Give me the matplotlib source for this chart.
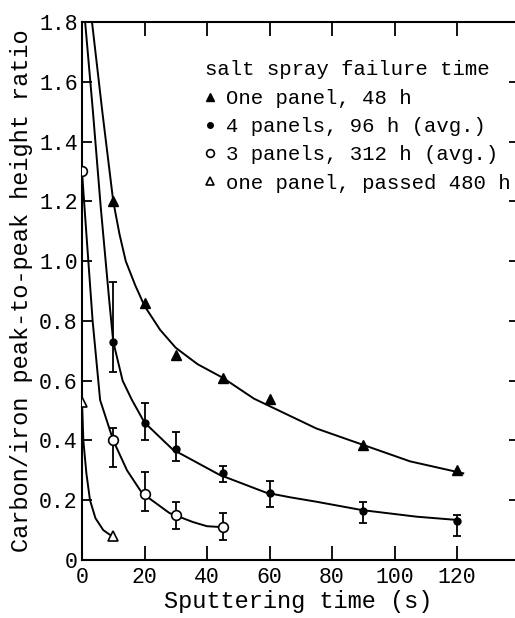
import matplotlib
matplotlib.use('Agg')
import matplotlib.pyplot as plt
import numpy as np

# measured points (sputtering time s, C/Fe peak-to-peak ratio)
tri_x = [10, 20, 30, 45, 60, 90, 120]
tri_y = [1.20, 0.86, 0.685, 0.61, 0.54, 0.385, 0.30]

fc_x = [10, 20, 30, 45, 60, 90, 120]
fc_y = [0.73, 0.46, 0.37, 0.29, 0.225, 0.165, 0.13]
fc_hi = [0.93, 0.525, 0.428, 0.315, 0.265, 0.195, 0.15]
fc_lo = [0.63, 0.40, 0.33, 0.26, 0.177, 0.125, 0.08]

oc_x = [0, 10, 20, 30, 45]
oc_y = [1.30, 0.40, 0.22, 0.15, 0.11]
oc_hi = [1.30, 0.44, 0.295, 0.195, 0.157]
oc_lo = [1.30, 0.31, 0.165, 0.103, 0.067]

ot_x = [0, 10]
ot_y = [0.53, 0.08]

# hand-drawn fit curves
tri_fit_x = [3.2, 6.5, 10, 12, 14, 17, 20, 25, 30, 37, 45, 55, 65, 75, 90, 105, 122]
tri_fit_y = [1.8, 1.5, 1.2, 1.09, 1.0, 0.92, 0.85, 0.77, 0.71, 0.655, 0.61, 0.54, 0.49, 0.44, 0.385, 0.33, 0.29]

fc_fit_x = [1.0, 3.5, 6.0, 8.7, 10, 13, 16, 20, 29, 44, 59, 66.5, 75, 89.6, 107, 120]
fc_fit_y = [1.8, 1.5, 1.18, 0.87, 0.73, 0.60, 0.535, 0.46, 0.37, 0.285, 0.225, 0.21, 0.195, 0.167, 0.145, 0.134]

oc_fit_x = [0, 1.0, 3.4, 5.8, 10, 14.4, 19.2, 28, 35.5, 40, 45]
oc_fit_y = [1.30, 1.15, 0.80, 0.535, 0.40, 0.30, 0.224, 0.157, 0.127, 0.113, 0.11]

ot_fit_x = [0, 0.43, 1.4, 2.56, 4.3, 6.8, 9.0, 10]
ot_fit_y = [0.53, 0.40, 0.29, 0.20, 0.14, 0.10, 0.084, 0.08]

labels = ['One panel, 48 h', '4 panels, 96 h (avg.)',
          '3 panels, 312 h (avg.)', 'one panel, passed 480 h']

plt.rcParams['font.family'] = ['Liberation Mono', 'DejaVu Sans Mono']

fig = plt.figure(figsize=(5.15, 6.18), dpi=100)
ax = fig.add_axes([82/515, 58/618, 433/515, 538/618])

lw = 1.4
for fx, fy in [(tri_fit_x, tri_fit_y), (fc_fit_x, fc_fit_y),
               (oc_fit_x, oc_fit_y), (ot_fit_x, ot_fit_y)]:
    ax.plot(fx, fy, color='k', lw=lw, zorder=2)

fc_y_a = np.array(fc_y)
ax.errorbar(fc_x, fc_y, yerr=[fc_y_a - np.array(fc_lo), np.array(fc_hi) - fc_y_a],
            fmt='none', ecolor='k', elinewidth=1.3, capsize=3, capthick=1.3, zorder=3)
oc_y_a = np.array(oc_y)
ax.errorbar(oc_x[1:], oc_y[1:], yerr=[(oc_y_a - np.array(oc_lo))[1:], (np.array(oc_hi) - oc_y_a)[1:]],
            fmt='none', ecolor='k', elinewidth=1.3, capsize=3, capthick=1.3, zorder=3)

h1, = ax.plot(tri_x, tri_y, ls='none', marker='^', ms=7.5, mfc='k', mec='k', label=labels[0], zorder=5)
h2, = ax.plot(fc_x, fc_y, ls='none', marker='o', ms=5, mfc='k', mec='k', label=labels[1], zorder=5)
h3, = ax.plot(oc_x, oc_y, ls='none', marker='o', ms=7, mfc='white', mec='k', mew=1.2, label=labels[2], zorder=5)
h4, = ax.plot(ot_x, ot_y, ls='none', marker='^', ms=7, mfc='white', mec='k', mew=1.2, label=labels[3], zorder=5)

ax.set_xlim(0, 138.56)
ax.set_ylim(0, 1.8)
ax.set_xticks([0, 20, 40, 60, 80, 100, 120])
ax.set_yticks([0, 0.2, 0.4, 0.6, 0.8, 1.0, 1.2, 1.4, 1.6, 1.8])
ax.set_yticklabels(['0', '0.2', '0.4', '0.6', '0.8', '1.0', '1.2', '1.4', '1.6', '1.8'])
ax.tick_params(axis='x', direction='in', length=10, width=1.3, top=True, labelsize=15.5, pad=5)
ax.tick_params(axis='y', direction='in', length=7, width=1.3, right=False, labelsize=15.5, pad=3)
for s in ['left', 'bottom', 'top']:
    ax.spines[s].set_linewidth(1.5)
ax.spines['right'].set_visible(False)

sec = ax.secondary_yaxis('right')
sec.set_yticks([0.2, 0.4, 0.6, 0.8, 1.0, 1.2, 1.4, 1.6])
sec.tick_params(direction='in', length=4, width=1.3, labelright=False)
sec.spines['right'].set_visible(False)

ax.set_xlabel('Sputtering time (s)', fontsize=17)
ax.xaxis.set_label_coords(0.5, -0.056)
ax.set_ylabel('Carbon/iron peak-to-peak height ratio', fontsize=17)
ax.yaxis.set_label_coords(-0.113, 0.5)

leg = ax.legend(handles=[h1, h2, h3, h4], title='salt spray failure time',
                loc='upper left', bbox_to_anchor=(0.27, 0.94), frameon=False,
                fontsize=14.9, title_fontsize=14.9, handlelength=0.5, handletextpad=0.5,
                labelspacing=0.45, borderpad=0.3, borderaxespad=0, markerscale=0.8,
                numpoints=1, alignment='left')

fig.savefig('out.png', dpi=100)
